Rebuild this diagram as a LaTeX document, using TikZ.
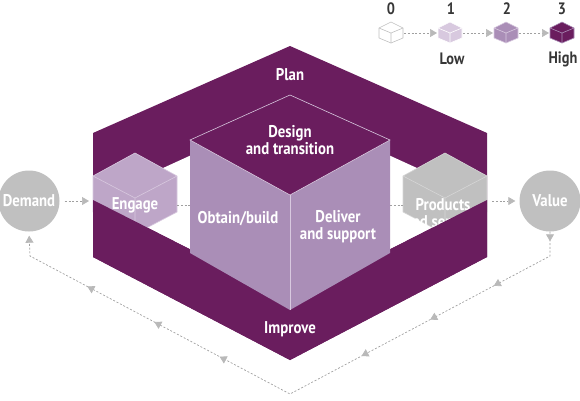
\documentclass[tikz,border=0pt]{standalone}
\usepackage{fontspec}
\newfontfamily\labfont{PT Sans}[FakeStretch=0.87]
\usepackage{tikz}
\usetikzlibrary{arrows.meta}
\usetikzlibrary{decorations.markings}
\definecolor{plum}{RGB}{106,29,94}
\definecolor{lilac}{RGB}{170,142,183}
\definecolor{lilacpale}{RGB}{190,166,200}
\definecolor{lilacline}{RGB}{216,201,223}
\definecolor{greycube}{RGB}{192,192,192}
\definecolor{greyline}{RGB}{214,214,214}
\definecolor{dotgrey}{RGB}{160,160,160}
\definecolor{tipgrey}{RGB}{185,185,185}
\definecolor{legtext}{RGB}{55,55,55}
% cube: centre x, top y, half width, back drop, front drop, height, fill, edge
\newcommand{\isocube}[8]{
  \filldraw[fill=#7,draw=#8,line width=0.6pt,line join=round]
    (#1,#2) -- (#1+#3,#2+#4) -- (#1+#3,#2+#4+#6) -- (#1,#2+#4+#5+#6)
    -- (#1-#3,#2+#4+#6) -- (#1-#3,#2+#4) -- cycle;
  \draw[#8,line width=0.6pt] (#1-#3,#2+#4) -- (#1,#2+#4+#5) -- (#1+#3,#2+#4)
    (#1,#2+#4+#5) -- (#1,#2+#4+#5+#6);}
\tikzset{
  lab/.style={text=white,font=\labfont\bfseries\fontsize{17}{17}\selectfont,align=center,inner sep=0pt},
  leg/.style={text=legtext,font=\labfont\bfseries\fontsize{16.5}{17}\selectfont,inner sep=0pt},
  dashline/.style={dotgrey,line width=0.7pt,dash pattern=on 2pt off 1.8pt},
  flow/.style={dashline,-{Triangle[width=8pt,length=7pt,color=tipgrey]}},
  feedback/.style={flow,postaction={decorate},decoration={markings,
    mark=at position 0.015 with {\arrow{Triangle[width=8pt,length=7pt,color=tipgrey]}},
    mark=at position 0.138 with {\arrow{Triangle[width=8pt,length=7pt,color=tipgrey]}},
    mark=at position 0.251 with {\arrow{Triangle[width=8pt,length=7pt,color=tipgrey]}},
    mark=at position 0.373 with {\arrow{Triangle[width=8pt,length=7pt,color=tipgrey]}},
    mark=at position 0.625 with {\arrow{Triangle[width=8pt,length=7pt,color=tipgrey]}},
    mark=at position 0.741 with {\arrow{Triangle[width=8pt,length=7pt,color=tipgrey]}},
    mark=at position 0.860 with {\arrow{Triangle[width=8pt,length=7pt,color=tipgrey]}}}}
}

\begin{document}
\begin{tikzpicture}[x=1pt,y=-1pt]
\useasboundingbox (0,0) rectangle (580,400);
% legend
\isocube{391}{22}{12}{6}{5}{10}{white}{greycube}
\isocube{450}{22}{12}{6}{5}{10}{lilacline}{white}
\isocube{506}{22}{12}{6}{5}{10}{lilac}{lilacline}
\isocube{562}{22}{12}{6}{5}{10}{plum}{lilac}
\node[leg] (n0) at (391,9) {0};
\node[leg] (n1) at (451,9) {1};
\node[leg] (n2) at (507,9) {2};
\node[leg] (n3) at (562,9) {3};
\node[leg] (low) at (452,59) {Low};
\node[leg] (high) at (563,59) {High};
\coordinate (l0) at (404,33);
\coordinate (l1) at (437,33);
\coordinate (l2) at (463,33);
\coordinate (l3) at (493,33);
\coordinate (l4) at (519,33);
\coordinate (l5) at (549,33);
\draw[flow] (l0) -- (l1);
\draw[flow] (l2) -- (l3);
\draw[flow] (l4) -- (l5);
% frame and hole
\fill[plum] (93,133) -- (290,46) -- (487,133) -- (487,257) -- (290,360) -- (93,257) -- cycle;
\fill[white] (93,200) -- (290,110) -- (487,200) -- (290,300) -- cycle;
% side cubes
\isocube{135}{153}{42}{23}{22}{36}{lilacpale}{lilacline}
\isocube{445}{153}{42}{23}{22}{36}{greycube}{greyline}
\node[lab] (engage) at (135,205) {Engage};
\node[lab] (prod) at (443,213) {Products\\and services};
\coordinate (engE) at (177,205);
\coordinate (obtW) at (190,205);
\coordinate (delE) at (390,205);
\coordinate (prodW) at (403,205);
\draw[dashline] (engE) -- (obtW);
\draw[dashline] (delE) -- (prodW);
% front band
\fill[plum] (93,200) -- (290,300) -- (487,200) -- (487,257) -- (290,360) -- (93,257) -- cycle;
% centre cube
\fill[lilac] (190,140) -- (290,195) -- (390,140) -- (390,253) -- (290,310) -- (190,253) -- cycle;
\filldraw[fill=plum,draw=lilacline,line width=0.6pt] (290,95) -- (390,140) -- (290,195) -- (190,140) -- cycle;
\draw[lilacline,line width=0.6pt] (290,195) -- (290,310);
\node[lab] (design) at (290,140) {Design\\and transition};
\node[lab] (obtain) at (238,219) {Obtain/build};
\node[lab] (deliver) at (338,227) {Deliver\\and support};
\node[lab] (plan) at (290,75) {Plan};
\node[lab] (improve) at (290,329) {Improve};
% demand and value
\node[lab,circle,fill=greycube,minimum size=61pt] (dem) at (29,201) {Demand};
\node[lab,circle,fill=greycube,minimum size=61pt] (val) at (550,201) {Value};
\coordinate (engW) at (93,201);
\coordinate (prodE) at (487,201);
\draw[flow,shorten <=5pt,shorten >=4pt] (dem) -- (engW);
\draw[flow,shorten <=5pt,shorten >=4pt] (prodE) -- (val);
% feedback loop
\coordinate (vturn) at (550,256);
\coordinate (bturn) at (290,394);
\coordinate (dturn) at (30,256);
\draw[feedback,shorten >=4pt] (val.south) -- (vturn) -- (bturn) -- (dturn) -- (dem.south);
\end{tikzpicture}
\end{document}
